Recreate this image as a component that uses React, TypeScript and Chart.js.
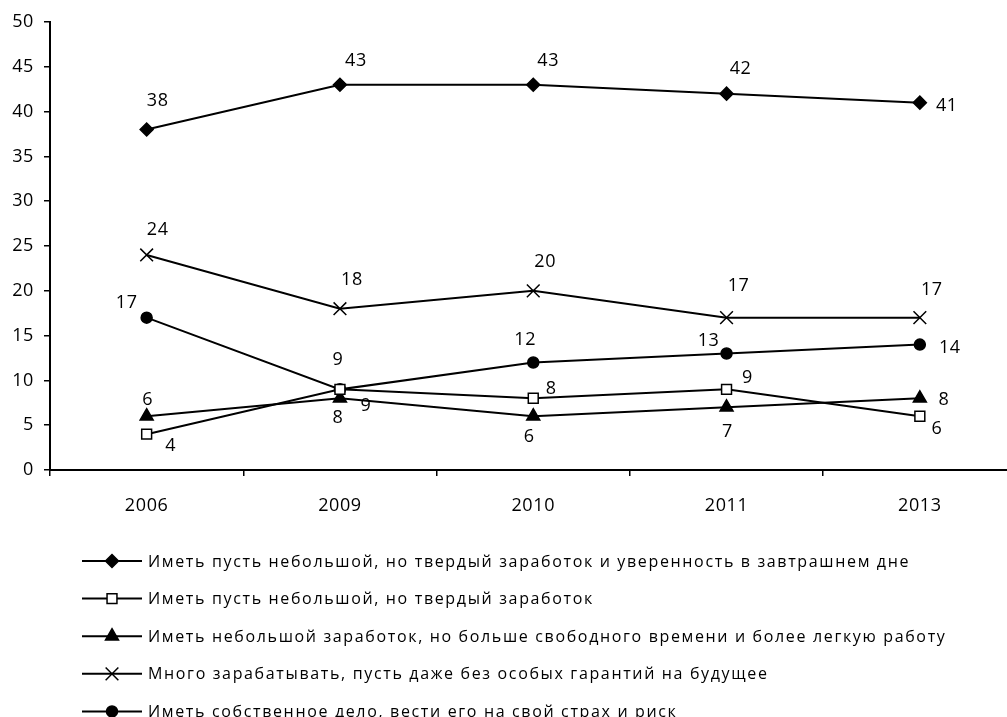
import React, { useEffect, useRef } from 'react';
import { Chart, registerables } from 'chart.js';

Chart.register(...registerables);

// ---- data ----
const categories = ['2006', '2009', '2010', '2011', '2013'];
const seriesNames = [
  'Иметь пусть небольшой, но твердый заработок и уверенность в завтрашнем дне',
  'Иметь пусть небольшой, но твердый заработок',
  'Иметь небольшой заработок, но больше свободного времени и более легкую работу',
  'Много зарабатывать, пусть даже без особых гарантий на будущее',
  'Иметь собственное дело, вести его на свой страх и риск',
];
const stableConfident = [38, 43, 43, 42, 41];
const stableSmall = [4, 9, 8, 9, 6];
const freeTime = [6, 8, 6, 7, 8];
const earnMuch = [24, 18, 20, 17, 17];
const ownBusiness = [17, 9, 12, 13, 14];
const yTicks = [0, 5, 10, 15, 20, 25, 30, 35, 40, 45, 50];

// ---- styles ----
const FONT = "'Open Sans', sans-serif";
const markerStyles = ['rectRot', 'rect', 'triangle', 'crossRot', 'circle'];
const markerRadius = [6.5, 7, 7.5, 9, 5.5];
const markerFill = ['#000', '#fff', '#000', '#000', '#000'];
// label offsets (dx, dy) in px relative to each point
const labelOffsets: number[][][] = [
  [[11, -29], [16, -24], [15, -24], [14, -25], [27, 3]],
  [[24, 12], [26, 17], [18, -9], [21, -11], [17, 13]],
  [[1, -16], [-2, 20], [-4, 21], [1, 25], [24, 2]],
  [[11, -25], [12, -29], [12, -29], [12, -32], [12, -28]],
  [[-20, -15], [-2, -29], [-8, -23], [-18, -13], [30, 3]],
];

const seriesData = [stableConfident, stableSmall, freeTime, earnMuch, ownBusiness];

function drawMarker(ctx: CanvasRenderingContext2D, style: string, x: number, y: number, r: number, fill: string) {
  ctx.save();
  ctx.lineWidth = 1.5;
  ctx.strokeStyle = '#000';
  ctx.fillStyle = fill;
  ctx.beginPath();
  if (style === 'rectRot') {
    ctx.moveTo(x, y - r); ctx.lineTo(x + r, y); ctx.lineTo(x, y + r); ctx.lineTo(x - r, y); ctx.closePath();
    ctx.fill(); ctx.stroke();
  } else if (style === 'rect') {
    const s = r * Math.SQRT1_2;
    ctx.rect(x - s, y - s, 2 * s, 2 * s); ctx.fill(); ctx.stroke();
  } else if (style === 'triangle') {
    ctx.moveTo(x, y - r); ctx.lineTo(x + r * 0.866, y + r * 0.5); ctx.lineTo(x - r * 0.866, y + r * 0.5); ctx.closePath();
    ctx.fill(); ctx.stroke();
  } else if (style === 'crossRot') {
    const s = r * Math.SQRT1_2;
    ctx.moveTo(x - s, y - s); ctx.lineTo(x + s, y + s); ctx.moveTo(x + s, y - s); ctx.lineTo(x - s, y + s); ctx.stroke();
  } else {
    ctx.arc(x, y, r, 0, Math.PI * 2); ctx.fill(); ctx.stroke();
  }
  ctx.restore();
}

const spacingPlugin = {
  id: 'spacing',
  beforeDraw(chart: any) { (chart.ctx as any).letterSpacing = '0.6px'; },
  afterDraw(chart: any) { (chart.ctx as any).letterSpacing = '0px'; },
};

const labelPlugin = {
  id: 'pointLabels',
  afterDatasetsDraw(chart: any) {
    const ctx: CanvasRenderingContext2D = chart.ctx;
    ctx.save();
    (ctx as any).letterSpacing = '0.6px';
    ctx.font = `18px ${FONT}`;
    ctx.fillStyle = '#000';
    ctx.textAlign = 'center';
    ctx.textBaseline = 'middle';
    chart.data.datasets.forEach((ds: any, di: number) => {
      const meta = chart.getDatasetMeta(di);
      meta.data.forEach((pt: any, i: number) => {
        const [dx, dy] = labelOffsets[di][i];
        ctx.fillText(String(ds.data[i]), pt.x + dx, pt.y + dy);
      });
    });
    ctx.restore();
  },
};

const legendPlugin = {
  id: 'customLegend',
  afterDraw(chart: any) {
    const ctx: CanvasRenderingContext2D = chart.ctx;
    ctx.save();
    (ctx as any).letterSpacing = '1.65px';
    ctx.font = `16px ${FONT}`;
    ctx.fillStyle = '#000';
    ctx.textAlign = 'left';
    ctx.textBaseline = 'middle';
    const y0 = 561;
    const step = 37.6;
    seriesNames.forEach((name, i) => {
      const y = y0 + i * step;
      ctx.beginPath();
      ctx.lineWidth = 2;
      ctx.strokeStyle = '#000';
      ctx.moveTo(82, y);
      ctx.lineTo(142, y);
      ctx.stroke();
      drawMarker(ctx, markerStyles[i], 112, y, markerRadius[i], markerFill[i]);
      ctx.fillText(name, 148, y + 1);
    });
    ctx.restore();
  },
};

export default function App() {
  const ref = useRef<HTMLCanvasElement>(null);
  useEffect(() => {
    const chart = new Chart(ref.current as HTMLCanvasElement, {
      type: 'line',
      data: {
        labels: categories,
        datasets: seriesData.map((d, i) => ({
          label: seriesNames[i],
          data: d,
          borderColor: '#000',
          borderWidth: 2,
          backgroundColor: markerFill[i],
          pointStyle: markerStyles[i] as any,
          pointRadius: markerRadius[i],
          pointBorderColor: '#000',
          pointBackgroundColor: markerFill[i],
          pointBorderWidth: 1.5,
          tension: 0,
          fill: false,
        })),
      },
      options: {
        responsive: false,
        animation: false,
        devicePixelRatio: 1,
        layout: { padding: { top: 22, left: 0, right: 0, bottom: 197 } },
        plugins: { legend: { display: false }, tooltip: { enabled: false } },
        scales: {
          x: {
            type: 'category',
            offset: true,
            grid: { offset: true, drawOnChartArea: false, drawTicks: true, tickLength: 6, color: '#000', lineWidth: 1.5 },
            border: { color: '#000', width: 2 },
            ticks: { color: '#000', font: { family: FONT, size: 18 }, padding: 19, maxRotation: 0 },
            afterFit: (s: any) => { s.height = 50; },
          },
          y: {
            min: 0,
            max: 50,
            afterBuildTicks: (s: any) => { s.ticks = yTicks.map((v) => ({ value: v })); },
            grid: { drawOnChartArea: false, drawTicks: true, tickLength: 6, color: '#000', lineWidth: 1.5 },
            border: { color: '#000', width: 2 },
            ticks: { color: '#000', font: { family: FONT, size: 18 }, padding: 10 },
            afterFit: (s: any) => { s.width = 50; },
          },
        },
      },
      plugins: [spacingPlugin, labelPlugin, legendPlugin],
    });
    return () => chart.destroy();
  }, []);
  return (
    <div style={{ position: 'fixed', left: 0, top: 0, width: 1007, height: 717, overflow: 'hidden', background: '#fff' }}>
      <canvas ref={ref} width={1027} height={717} style={{ display: 'block' }} />
    </div>
  );
}
